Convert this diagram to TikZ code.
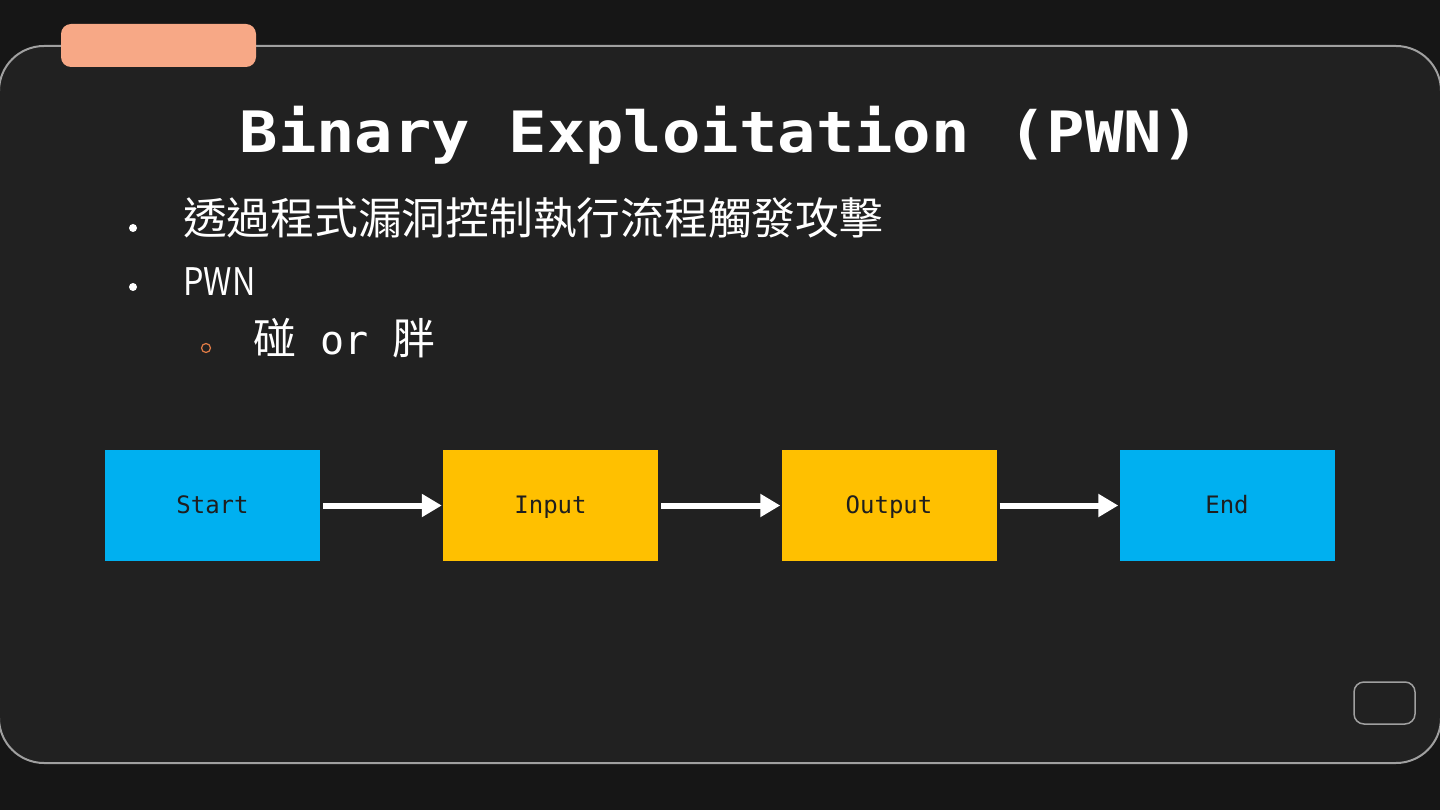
\documentclass[tikz,border=0pt]{standalone}
\usepackage{fontspec}
\newfontfamily\cjk{Noto Sans CJK TC}
\newfontfamily\mono{DejaVu Sans Mono}
\usetikzlibrary{arrows.meta}
\definecolor{outerbg}{HTML}{161616}
\definecolor{panelbg}{HTML}{212121}
\definecolor{panelline}{HTML}{A0A0A0}
\definecolor{tabc}{HTML}{F7A886}
\definecolor{boxblue}{HTML}{00B0F0}
\definecolor{boxyellow}{HTML}{FFC000}
\definecolor{subbullet}{HTML}{E07B45}
\definecolor{boxtext}{HTML}{1E1E1E}
\tikzset{
  flowbox/.style={minimum width=215pt, minimum height=111pt, inner sep=0pt, text=boxtext,
    text height=17pt, text depth=2pt,
    font=\mono\fontsize{24}{24}\selectfont},
  flowarrow/.style={draw=white, line width=6pt, -{Triangle[length=20pt,width=22pt]}},
  bodytext/.style={text=white, inner sep=0pt, anchor=base west},
}
\begin{document}
\begin{tikzpicture}[x=1pt,y=-1pt]
\useasboundingbox (0,0) rectangle (1440,810);
\fill[outerbg] (0,0) rectangle (1440,810);
\filldraw[fill=panelbg, draw=panelline, line width=2pt, rounded corners=45pt] (-1,46) rectangle (1441,763);
\fill[tabc, rounded corners=10pt] (61,24) rectangle (256,67);
\draw[panelline, line width=1.5pt, rounded corners=10pt] (1354,682) rectangle (1415,724);

\node[text=white, inner sep=0pt, anchor=base, font=\mono\bfseries\fontsize{57}{57}\selectfont] (title) at (720,153) {\scalebox{1.12}[1]{Binary Exploitation (PWN)}};

\fill[white] (133,228) circle (4pt);
\node[bodytext, font=\cjk\fontsize{43.75}{44}\selectfont] (l1) at (183,235) {透過程式漏洞控制執行流程觸發攻擊};
\fill[white] (133,287) circle (4pt);
\node[bodytext, font=\cjk\fontsize{38}{38}\selectfont] (l2) at (183,295) {\scalebox{0.85}[1]{PWN}};
\draw[subbullet, line width=1.2pt] (206,348) circle (4.5pt);
\node[bodytext, font=\cjk\fontsize{43}{43}\selectfont] (l3) at (253,354) {碰{\mono\fontsize{40}{40}\selectfont\ or\ }胖};

\node[flowbox, fill=boxblue] (start) at (212.5,505.5) {Start};
\node[flowbox, fill=boxyellow] (input) at (550.5,505.5) {Input};
\node[flowbox, fill=boxyellow] (output) at (889,505.5) {Output};
\node[flowbox, fill=boxblue] (endbox) at (1227,505.5) {End};

\draw[flowarrow] ([xshift=3pt]start.east) -- ([xshift=-1pt]input.west);
\draw[flowarrow] ([xshift=3pt]input.east) -- ([xshift=-1pt]output.west);
\draw[flowarrow] ([xshift=3pt]output.east) -- ([xshift=-1pt]endbox.west);
\end{tikzpicture}
\end{document}
